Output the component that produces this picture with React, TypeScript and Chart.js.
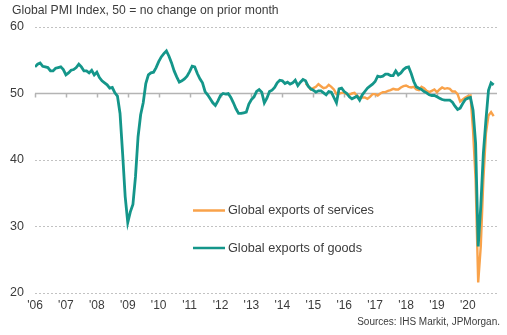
import { useEffect, useRef } from "react";
import { Chart, registerables } from "chart.js";

Chart.register(...registerables);

// Months counted from Jan 2006 (index 0)
const yearTickMonths = [0, 12, 24, 36, 48, 60, 72, 84, 96, 108, 120, 132, 144, 156, 168];
const yearLabels = ["'06", "'07", "'08", "'09", "'10", "'11", "'12", "'13", "'14", "'15", "'16", "'17", "'18", "'19", "'20"];
const yTicks = [20, 30, 40, 50, 60];

// Global exports of goods (monthly, Jan 2006 – Nov 2020)
const goods = [
  54.0, 54.4, 54.6, 54.1, 54.0, 53.9, 53.4, 53.4, 53.8, 53.9, 54.0, 53.6,
  52.8, 53.1, 53.5, 53.6, 53.9, 54.4, 54.0, 53.4, 53.4, 53.1, 53.5, 52.8,
  53.2, 52.4, 51.9, 51.6, 51.3, 50.8, 50.9, 50.1, 49.6, 47.0, 41.0, 34.5,
  30.6, 32.2, 33.3, 37.5, 43.5, 46.8, 48.6, 51.5, 52.8, 53.1, 53.2, 53.9,
  54.8, 55.5, 56.0, 56.4, 55.6, 54.6, 53.4, 52.5, 51.7, 51.9, 52.2, 52.6,
  53.3, 54.1, 54.0, 53.0, 52.2, 51.6, 50.3, 49.8, 49.2, 48.6, 48.2, 48.9,
  49.7, 50.0, 49.9, 50.0, 49.4, 48.6, 47.7, 47.0, 47.0, 47.1, 47.2, 48.4,
  49.1, 49.5, 50.3, 50.6, 50.2, 48.6, 49.3, 50.3, 50.5, 50.9, 51.6, 52.0,
  51.9, 51.5, 51.7, 51.4, 51.6, 52.0, 51.2, 51.7, 52.1, 51.9, 51.1, 50.7,
  50.5, 50.2, 50.4, 50.4, 50.1, 49.8, 50.3, 50.2, 49.4, 48.6, 50.7, 50.8,
  50.3, 50.0, 49.5, 49.2, 49.4, 49.6, 49.0, 49.8, 50.3, 50.8, 51.1, 51.4,
  51.8, 52.6, 52.5, 52.6, 52.9, 52.9, 52.7, 52.7, 53.4, 52.8, 53.1, 53.6,
  53.9, 54.0, 53.0, 51.8, 51.0, 50.8, 50.6, 50.3, 50.1, 49.8, 49.7, 49.7,
  49.5, 49.3, 49.1, 49.0, 49.0, 49.0, 48.7, 48.1, 47.6, 47.8, 48.5, 49.1,
  49.3, 49.4, 47.5, 42.5, 27.0, 33.0, 41.0, 46.0, 50.5, 51.6, 51.3,
];

// Global exports of services (monthly, starting Oct 2014)
const servicesStart = 105;
const services = [
  51.5, 51.2, 50.6, 50.8, 51.0, 51.4, 51.1, 50.8, 50.9, 51.3,
  51.0, 50.6, 49.9, 50.0, 50.1, 50.1, 49.9, 49.8, 50.0, 50.1,
  49.6, 49.4, 49.4, 49.4, 49.2, 49.5, 49.9, 49.9, 49.7, 50.0,
  50.2, 50.2, 50.4, 50.5, 50.7, 50.6, 50.6, 50.9, 51.1, 51.2,
  51.0, 50.9, 51.0, 50.6, 50.5, 51.0, 50.8, 50.4, 50.2, 50.4,
  50.6, 50.2, 50.6, 50.9, 50.7, 50.8, 50.7, 50.3, 50.3, 49.9,
  48.8, 49.1, 49.4, 49.6, 49.7, 44.5, 37.0, 21.6, 27.0, 37.0,
  44.0, 46.7, 47.2, 46.6,
];

const TITLE = "Global PMI Index, 50 = no change on prior month";
const SOURCE = "Sources: IHS Markit, JPMorgan.";
const SERIES_SERVICES = "Global exports of services";
const SERIES_GOODS = "Global exports of goods";

const GREEN = "#14968a";
const ORANGE = "#f9a24a";
const FONT = "'Liberation Sans', Arial, sans-serif";
const TEXT = "#3c3c3c";

const decorPlugin = {
  id: "decor",
  beforeDatasetsDraw(chart: any) {
    const { ctx, chartArea, scales } = chart;
    const x = scales.x;
    const y = scales.y;
    const y50 = y.getPixelForValue(50);
    ctx.save();
    ctx.strokeStyle = "#b4b4b4";
    ctx.lineWidth = 1.5;
    ctx.beginPath();
    ctx.moveTo(chartArea.left, y50);
    ctx.lineTo(chartArea.right, y50);
    yearTickMonths.forEach((m) => {
      const px = Math.round(x.getPixelForValue(m)) + 0.5;
      ctx.moveTo(px, y50);
      ctx.lineTo(px, y50 + 4);
    });
    ctx.stroke();
    ctx.restore();
  },
  afterDraw(chart: any) {
    const { ctx, chartArea } = chart;
    ctx.save();
    ctx.fillStyle = TEXT;
    ctx.font = `12.2px ${FONT}`;
    ctx.textBaseline = "alphabetic";
    ctx.textAlign = "left";
    ctx.fillText(TITLE, 12, 14);

    ctx.font = `10px ${FONT}`;
    ctx.textAlign = "right";
    ctx.fillText(SOURCE, 500, 325);

    // legend
    const lx = chartArea.left + 158;
    const items = [
      { label: SERIES_SERVICES, color: ORANGE, y: 210.5 },
      { label: SERIES_GOODS, color: GREEN, y: 248 },
    ];
    ctx.font = `12.7px ${FONT}`;
    ctx.textAlign = "left";
    ctx.textBaseline = "middle";
    items.forEach((it) => {
      ctx.strokeStyle = it.color;
      ctx.lineWidth = 2.5;
      ctx.beginPath();
      ctx.moveTo(lx, it.y);
      ctx.lineTo(lx + 32, it.y);
      ctx.stroke();
      ctx.fillStyle = TEXT;
      ctx.fillText(it.label, lx + 35, it.y);
    });
    ctx.restore();
  },
};

export default function App() {
  const canvasRef = useRef<HTMLCanvasElement | null>(null);

  useEffect(() => {
    if (!canvasRef.current) return;
    const chart = new Chart(canvasRef.current, {
      type: "line",
      data: {
        datasets: [
          {
            label: SERIES_GOODS,
            data: goods.map((v, i) => ({ x: i, y: v })),
            borderColor: GREEN,
            backgroundColor: GREEN,
            borderWidth: 2.8,
            pointRadius: 0,
            tension: 0,
            order: 0,
          },
          {
            label: SERIES_SERVICES,
            data: services.map((v, i) => ({ x: i + servicesStart, y: v })),
            borderColor: ORANGE,
            backgroundColor: ORANGE,
            borderWidth: 2.4,
            pointRadius: 0,
            tension: 0,
            order: 1,
          },
        ],
      },
      options: {
        responsive: false,
        animation: false,
        devicePixelRatio: 1,
        layout: { padding: { left: 0, right: 10, top: 27, bottom: 20 } },
        plugins: { legend: { display: false }, tooltip: { enabled: false } },
        scales: {
          x: {
            type: "linear",
            min: 0,
            max: 179.3,
            afterBuildTicks: (ax: any) => {
              ax.ticks = yearTickMonths.map((v) => ({ value: v }));
            },
            afterFit: (ax: any) => {
              ax.height = 22;
            },
            ticks: {
              autoSkip: false,
              maxRotation: 0,
              padding: 5,
              color: TEXT,
              font: { family: FONT, size: 12 },
              callback: (_v: any, i: number) => yearLabels[i],
            },
            grid: { display: false, drawTicks: false },
            border: { display: false },
          },
          y: {
            min: 20,
            max: 60,
            afterBuildTicks: (ax: any) => {
              ax.ticks = yTicks.map((v) => ({ value: v }));
            },
            afterFit: (ax: any) => {
              ax.width = 35;
            },
            ticks: {
              padding: 11,
              color: TEXT,
              font: { family: FONT, size: 12.5 },
            },
            grid: {
              drawTicks: false,
              lineWidth: 1,
              color: (c: any) => (c.tick && c.tick.value === 50 ? "rgba(0,0,0,0)" : "#c2c2c2"),
            },
            border: { display: false, dash: [2, 2] },
          },
        },
      },
      plugins: [decorPlugin],
    });
    return () => chart.destroy();
  }, []);

  return (
    <div style={{ position: "fixed", left: 0, top: 0, width: 507, height: 335, background: "#fff" }}>
      <canvas ref={canvasRef} width={507} height={335} />
    </div>
  );
}
